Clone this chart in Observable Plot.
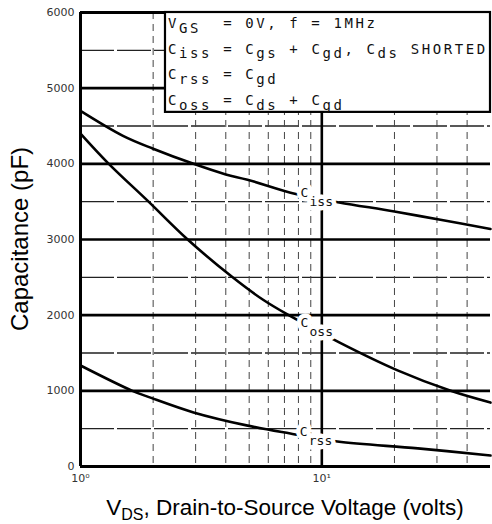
<!DOCTYPE html>
<html><head><meta charset="utf-8">
<script src="https://cdn.jsdelivr.net/npm/d3@7"></script>
<script src="https://cdn.jsdelivr.net/npm/@observablehq/plot@0.6"></script>
<style>body{margin:0;background:#fff;}</style>
</head><body><div id="chart"></div>
<script>
// ---- data ----
const vIss = [1, 1.5, 2, 2.94, 4, 4.92, 7.8, 11.8, 20, 31, 50];
const cIss = [4700, 4370, 4200, 4000, 3860, 3790, 3600, 3490, 3370, 3260, 3140];
const vOss = [1, 1.31, 1.9, 2.78, 4.27, 5.73, 7.29, 11.8, 20.6, 34.2, 50];
const cOss = [4400, 4000, 3510, 3000, 2500, 2200, 2000, 1640, 1270, 1000, 845];
const vRss = [1, 1.64, 1.95, 2.94, 4.93, 7.4, 11.6, 25, 50];
const cRss = [1335, 1000, 910, 715, 540, 435, 330, 240, 145];

const yTickValues = [0, 1000, 2000, 3000, 4000, 5000, 6000];
const yHalfValues = [500, 1500, 2500, 3500, 4500, 5500];
const xTickValues = [1, 10];
const xTickLabels = ["10\u2070", "10\u00b9"];
const xMinorValues = [2, 3, 4, 5, 6, 7, 8, 9, 20, 30, 40];

const curveMain = ["C", "C", "C"];
const curveSub = ["iss", "oss", "rss"];
const curveLabelV = [8.16, 8.16, 8.1];
const curveLabelC = [3620, 1900, 460];

const boxV = [2.25, 50];
const boxC = [4680, 6000];
const legendLines = [
  [["V", false], ["GS", true], ["  = 0V, f = 1MHz", false]],
  [["C", false], ["iss", true], [" = C", false], ["gs", true], [" + C", false], ["gd", true], [", C", false], ["ds", true], [" SHORTED", false]],
  [["C", false], ["rss", true], [" = C", false], ["gd", true]],
  [["C", false], ["oss", true], [" = C", false], ["ds", true], [" + C", false], ["gd", true]]
];

const xTitle = [["V", false], ["DS", true], [", Drain-to-Source Voltage (volts)", false]];
const yTitle = "Capacitance (pF)";

// ---- build table ----
const rows = [
  ...vIss.map((v, i) => ({v, c: cIss[i], s: "Ciss"})),
  ...vOss.map((v, i) => ({v, c: cOss[i], s: "Coss"})),
  ...vRss.map((v, i) => ({v, c: cRss[i], s: "Crss"}))
];
const labels = curveMain.map((m, i) => ({m, sub: curveSub[i], v: curveLabelV[i], c: curveLabelC[i]}));
const box = [{x1: boxV[0], x2: boxV[1], y1: boxC[0], y2: boxC[1]}];

const mono = "DejaVu Sans Mono";

const plot = Plot.plot({
  width: 492, height: 524,
  marginLeft: 80, marginRight: 2, marginTop: 12, marginBottom: 58,
  style: {fontFamily: "DejaVu Sans", fontSize: "11px", color: "#333", background: "#fff", overflow: "visible"},
  x: {type: "log", domain: [1, 50], ticks: xTickValues,
      tickFormat: d => xTickLabels[xTickValues.indexOf(d)], tickSize: 0, tickPadding: 8, label: null},
  y: {domain: [0, 6000], ticks: yTickValues, tickFormat: d => String(d), tickSize: 0, tickPadding: 6, label: null},
  marks: [
    Plot.ruleY(yHalfValues, {stroke: "#222", strokeWidth: 1.4, strokeDasharray: "34,3"}),
    Plot.ruleX(xMinorValues, {stroke: "#444", strokeWidth: 1, strokeDasharray: "7,5"}),
    Plot.ruleY(yTickValues.slice(1, -1), {stroke: "#000", strokeWidth: 2.6}),
    Plot.ruleX([10], {stroke: "#000", strokeWidth: 2.6}),
    Plot.ruleX([1], {stroke: "#000", strokeWidth: 3}),
    Plot.ruleY([0, 6000], {stroke: "#000", strokeWidth: 3}),
    Plot.line(rows, {x: "v", y: "c", z: "s", curve: "catmull-rom", stroke: "#000", strokeWidth: 2.6}),
    Plot.rect(box, {x1: "x1", x2: "x2", y1: "y1", y2: "y2", fill: "#fff", stroke: "#000", strokeWidth: 2.2}),
    Plot.text(labels, {x: "v", y: "c", text: "m", textAnchor: "start", fontFamily: mono, fontSize: 13,
      fill: "#111", stroke: "#fff", strokeWidth: 9, dx: 0, dy: 0}),
    Plot.text(labels, {x: "v", y: "c", text: "sub", textAnchor: "start", fontFamily: mono, fontSize: 13,
      fill: "#111", stroke: "#fff", strokeWidth: 9, dx: 9, dy: 9})
  ]
});

const svgSel = d3.select(plot);
const sx = plot.scale("x"), sy = plot.scale("y");
const boxLeft = sx.apply(boxV[0]) + 3;
const boxTop = sy.apply(boxC[1]);

legendLines.forEach((segs, i) => {
  const t = svgSel.append("text")
    .attr("x", boxLeft).attr("y", boxTop + 16 + i * 25.7).attr("text-anchor", "start")
    .attr("font-family", mono).attr("font-size", 14).attr("letter-spacing", 2.6)
    .attr("fill", "#111").attr("xml:space", "preserve").style("white-space", "pre");
  let lowered = false;
  segs.forEach(([txt, sub]) => {
    const dy = sub && !lowered ? 4.5 : (!sub && lowered ? -4.5 : 0);
    lowered = sub;
    t.append("tspan").attr("dy", dy).text(txt);
  });
});

// axis titles
const xc = (sx.apply(1) + sx.apply(50)) / 2;
const xt = svgSel.append("text").attr("x", xc).attr("y", 515).attr("text-anchor", "middle")
  .attr("font-family", "Liberation Sans").attr("font-size", 22.5).attr("fill", "#000");
let low = false;
xTitle.forEach(([txt, sub]) => {
  const sp = xt.append("tspan").text(txt);
  if (sub && !low) sp.attr("dy", 5).attr("font-size", 16);
  if (!sub && low) sp.attr("dy", -5);
  low = sub;
});
const yc = (sy.apply(0) + sy.apply(6000)) / 2;
svgSel.append("text").attr("transform", `translate(28,${yc}) rotate(-90)`).attr("text-anchor", "middle")
  .attr("font-family", "Liberation Sans").attr("font-size", 24).attr("fill", "#000").text(yTitle);

document.getElementById("chart").appendChild(plot);
</script>
</body></html>
